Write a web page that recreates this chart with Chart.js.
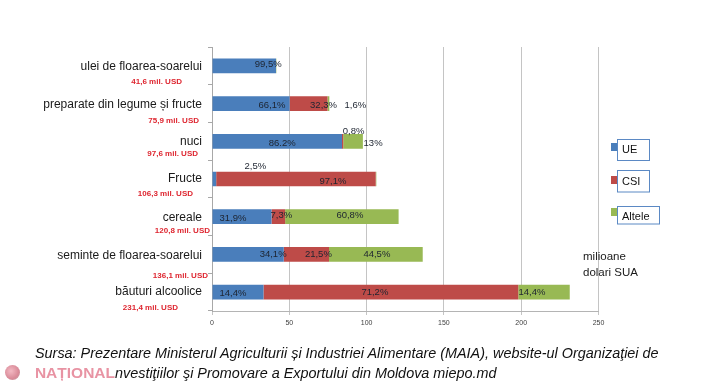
<!DOCTYPE html>
<html>
<head>
<meta charset="utf-8">
<script src="https://cdn.jsdelivr.net/npm/chart.js@4"></script>
<style>
  html, body { margin: 0; padding: 0; background: #fff; }
  #wrap { position: relative; width: 708px; height: 389px; overflow: hidden; }
  canvas { position: absolute; left: 0; top: 0; }
  .cap { position: absolute; font-family: "Liberation Sans", Arial, sans-serif; font-style: italic; font-size: 14.4px; line-height: 16px; color: #111; white-space: nowrap; }
  .wm { position: absolute; left: 30px; top: 364px; width: 85px; background: #fff; font-family: "Liberation Sans", Arial, sans-serif; font-weight: bold; font-size: 15.5px; line-height: 17px; color: rgba(226, 120, 140, 0.8); white-space: nowrap; text-align: right; }
  .logo { position: absolute; left: 5px; top: 365px; width: 15px; height: 15px; border-radius: 50%; background: radial-gradient(circle at 40% 40%, #f3b9c3, #d98a98 60%, #b9a9ae); }
</style>
</head>
<body>
<div id="wrap">
  <canvas id="c" width="708" height="389"></canvas>
  <div class="cap" id="cap1" style="left:35px; top:345px;">Sursa: Prezentare Ministerul Agriculturii și Industriei Alimentare (MAIA), website-ul Organizaţiei de</div>
  <div class="cap" id="cap2" style="left:111px; top:365px;">Investiţiilor şi Promovare a Exportului din Moldova miepo.md</div>
  <div class="logo"></div>
  <div class="wm">NAȚIONAL</div>
</div>
<script>
// ---- data ----
const categories = ['ulei de floarea-soarelui', 'preparate din legume și fructe', 'nuci', 'Fructe', 'cereale', 'seminte de floarea-soarelui', 'băuturi alcoolice'];
const totals = [41.6, 75.9, 97.6, 106.3, 120.8, 136.1, 231.4];
const seriesNames = ['UE', 'CSI', 'Altele'];
const ueValues = [41.4, 50.2, 84.1, 2.7, 38.5, 46.4, 33.3];
const csiValues = [0, 24.5, 0.8, 103.2, 8.8, 29.3, 164.8];
const altValues = [0.2, 1.2, 12.7, 0.4, 73.4, 60.6, 33.3];
const ueLabels = ['99,5%', '66,1%', '86.2%', '2,5%', '31,9%', '34,1%', '14,4%'];
const csiLabels = ['', '32,3%', '0,8%', '97,1%', '7,3%', '21,5%', '71,2%'];
const altLabels = ['', '1,6%', '13%', '', '60,8%', '44,5%', '14,4%'];
const xTicks = [0, 50, 100, 150, 200, 250];
const unitLines = ['milioane', 'dolari SUA'];

// ---- layout (nudges, not data) ----
const labelNudge = [
  [[24,-1],[21,2],[5,2],[41,-13],[-9,2],[25,0],[-5,1]],
  [[0,0],[15,2],[11,-10],[37,2],[3,-1],[12,0],[-16,0]],
  [[0,0],[27,2],[20,2],[0,0],[8,-1],[1,0],[-12,0]]
];
const nameDy = [1, 1, 0, 0, 1, 1, 0];
const totalDy = [16, 17, 13, 14.5, 14, 21, 16];
const totalRight = [182, 199, 198, 193, 210, 208, 178];
const legendBoxes = [
  {x: 617, y: 139, w: 32, h: 21, sy: 143, ty: 150},
  {x: 617, y: 170, w: 32, h: 21.5, sy: 176, ty: 181.5},
  {x: 617, y: 206, w: 42, h: 17.5, sy: 208, ty: 217}
];
const colors = ['#4A7EBB', '#BE4B48', '#98B954'];
const allLabels = [ueLabels, csiLabels, altLabels];

Chart.defaults.font.family = '"Liberation Sans", Arial, sans-serif';

const overlay = {
  id: 'overlay',
  afterDatasetsDraw(chart) {
    const ctx = chart.ctx;
    const ys = chart.scales.y;
    ctx.save();
    // percentage labels
    ctx.font = '9.5px "Liberation Sans", Arial, sans-serif';
    ctx.fillStyle = '#1d2430';
    ctx.textAlign = 'center';
    ctx.textBaseline = 'middle';
    chart.data.datasets.forEach((ds, i) => {
      const meta = chart.getDatasetMeta(i);
      meta.data.forEach((el, j) => {
        const t = allLabels[i][j];
        if (!t) return;
        const cx = (el.x + el.base) / 2 + labelNudge[i][j][0];
        const cy = el.y + labelNudge[i][j][1];
        ctx.fillText(t, cx, cy);
      });
    });
    // category names and totals
    categories.forEach((name, j) => {
      const y = ys.getPixelForValue(j);
      ctx.textAlign = 'right';
      ctx.font = '12px "Liberation Sans", Arial, sans-serif';
      ctx.fillStyle = '#1a1a1a';
      ctx.fillText(name, 202, y + nameDy[j]);
      ctx.font = 'bold 8px "Liberation Sans", Arial, sans-serif';
      ctx.fillStyle = '#de2630';
      ctx.fillText(totals[j].toFixed(1).replace('.', ',') + ' mil. USD', totalRight[j], y + totalDy[j]);
    });
    // legend
    seriesNames.forEach((n, k) => {
      const b = legendBoxes[k];
      ctx.fillStyle = '#fff';
      ctx.fillRect(b.x, b.y, b.w, b.h);
      ctx.strokeStyle = '#5b89c4';
      ctx.lineWidth = 1;
      ctx.strokeRect(b.x + 0.5, b.y + 0.5, b.w, b.h);
      ctx.fillStyle = colors[k];
      ctx.fillRect(b.x - 6, b.sy, 6, 8);
      ctx.fillStyle = '#111';
      ctx.font = '11px "Liberation Sans", Arial, sans-serif';
      ctx.textAlign = 'left';
      ctx.fillText(n, b.x + 5, b.ty);
    });
    // unit
    ctx.font = '11.5px "Liberation Sans", Arial, sans-serif';
    ctx.fillStyle = '#1a1a1a';
    ctx.textAlign = 'left';
    ctx.fillText(unitLines[0], 583, 257);
    ctx.fillText(unitLines[1], 583, 273);
    ctx.restore();
  }
};

new Chart(document.getElementById('c'), {
  type: 'bar',
  data: {
    labels: categories,
    datasets: [
      {label: seriesNames[0], data: ueValues, backgroundColor: colors[0]},
      {label: seriesNames[1], data: csiValues, backgroundColor: colors[1]},
      {label: seriesNames[2], data: altValues, backgroundColor: colors[2]}
    ]
  },
  options: {
    indexAxis: 'y',
    responsive: false,
    animation: false,
    layout: {padding: {top: 47, right: 109.5, left: 0, bottom: 0}},
    datasets: {bar: {barPercentage: 0.39, categoryPercentage: 1.0, borderWidth: 0}},
    plugins: {legend: {display: false}, tooltip: {enabled: false}},
    scales: {
      x: {
        stacked: true,
        min: 0, max: 250,
        afterFit(s) { s.height = 78; },
        afterBuildTicks(s) { s.ticks = xTicks.map(v => ({value: v})); },
        ticks: {font: {size: 7}, color: '#404040', padding: 4},
        grid: {color: '#c4c4c4', lineWidth: 1, tickLength: 4},
        border: {color: '#b4b4b4'}
      },
      y: {
        stacked: true,
        afterFit(s) { s.width = 212; },
        ticks: {display: false},
        grid: {offset: true, drawOnChartArea: false, tickLength: 4, color: '#a8a8a8'},
        border: {color: '#a8a8a8'}
      }
    }
  },
  plugins: [overlay]
});
</script>
</body>
</html>
